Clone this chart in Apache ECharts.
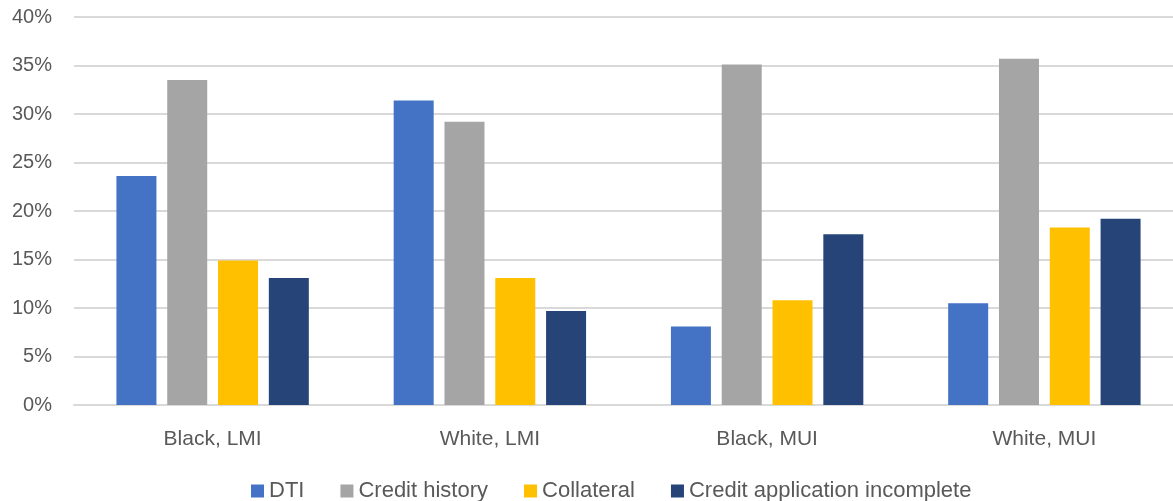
<!DOCTYPE html>
<html>
<head>
<meta charset="utf-8">
<script src="https://cdn.jsdelivr.net/npm/echarts@6/dist/echarts.min.js"></script>
<style>
    html, body { margin: 0; padding: 0; background: #fff; overflow: hidden; }
    #chart { width: 1173px; height: 501px; }
</style>
</head>
<body>
<div id="chart"></div>
<script>
const categories = ['Black, LMI', 'White, LMI', 'Black, MUI', 'White, MUI']
const seriesNames = ['DTI', 'Credit history', 'Collateral', 'Credit application incomplete']
const dti = [23.6, 31.4, 8.1, 10.5]
const creditHistory = [33.5, 29.2, 35.1, 35.7]
const collateral = [14.9, 13.1, 10.8, 18.3]
const incomplete = [13.1, 9.7, 17.6, 19.2]
const colors = ['#4472C4', '#A5A5A5', '#FFC000', '#264478']

const fontFamily = 'Liberation Sans, sans-serif'
const chart = echarts.init(document.getElementById('chart'))

const makeSeries = (name, data, color) => ({
    name,
    type: 'bar',
    data,
    barWidth: 40,
    barGap: '27%',
    itemStyle: {
        color,
    },
})

chart.setOption({
    animation: false,
    textStyle: {
        fontFamily,
    },
    // plot area runs a little past the right edge, as in the source image
    grid: {
        left: 74,
        width: 1109,
        top: 17,
        bottom: 96,
        outerBoundsMode: 'none',
    },
    legend: {
        top: 475,
        left: 246,
        itemWidth: 13,
        itemHeight: 13,
        itemGap: 36,
        icon: 'rect',
        textStyle: {
            color: '#595959',
            fontSize: 22,
            fontFamily,
        },
        data: seriesNames,
    },
    xAxis: {
        type: 'category',
        data: categories,
        axisTick: { show: false },
        axisLine: {
            lineStyle: { color: '#D9D9D9', width: 2 },
        },
        axisLabel: {
            color: '#595959',
            fontSize: 21,
            margin: 24,
        },
    },
    yAxis: {
        type: 'value',
        min: 0,
        max: 40,
        interval: 5,
        axisLine: { show: false },
        axisTick: { show: false },
        splitLine: {
            lineStyle: { color: '#D9D9D9', width: 2 },
        },
        axisLabel: {
            color: '#595959',
            fontSize: 20,
            margin: 22,
            formatter: '{value}%',
        },
    },
    series: [
        makeSeries(seriesNames[0], dti, colors[0]),
        makeSeries(seriesNames[1], creditHistory, colors[1]),
        makeSeries(seriesNames[2], collateral, colors[2]),
        makeSeries(seriesNames[3], incomplete, colors[3]),
    ],
})
</script>
</body>
</html>
